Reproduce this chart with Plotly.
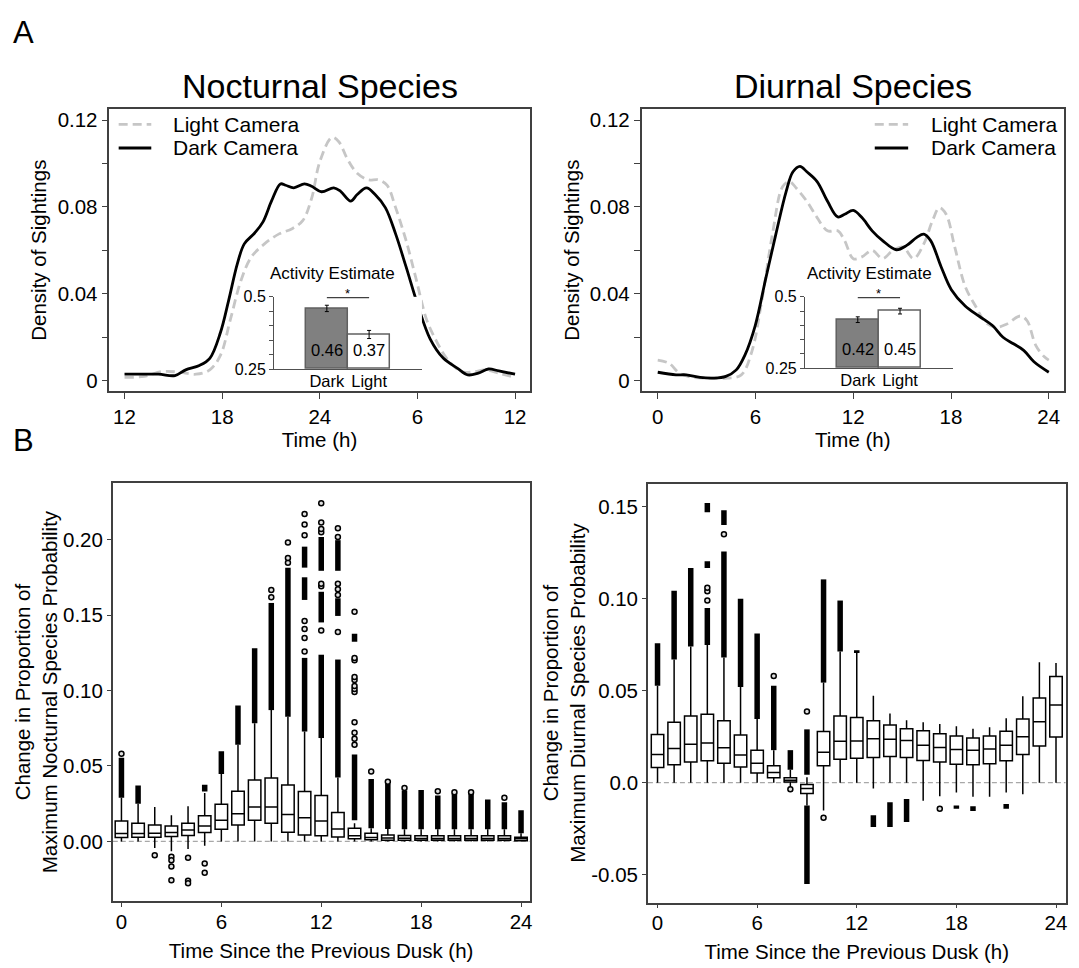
import plotly.graph_objects as go

W, H = 1079, 968
FONT = "Liberation Sans, Arial, Helvetica, sans-serif"

# ---------------- Panel A: density of sightings ----------------
noc_dark_h = [12, 14.07, 15.1, 15.76, 16.6, 17.24, 17.9, 18.4, 18.94, 19.36, 20, 20.5, 21.05, 21.58,
              21.9, 22.4, 23.06, 23.5, 24.1, 24.86, 25.28, 25.9, 26.3, 26.87, 27.4, 28.03, 28.66,
              29.3, 30.04, 30.78, 31.6, 32.47, 33.1, 33.74, 34.37, 35, 36]
noc_dark_d = [0.0030, 0.0030, 0.0024, 0.0050, 0.0070, 0.0103, 0.0223, 0.0370, 0.0540, 0.0630,
              0.0680, 0.0730, 0.0830, 0.0906, 0.0900, 0.0888, 0.0906, 0.0895, 0.0870, 0.0888,
              0.0872, 0.0827, 0.0857, 0.0888, 0.0857, 0.0797, 0.0676, 0.0525, 0.0344, 0.0193,
              0.0103, 0.0057, 0.0027, 0.0035, 0.0054, 0.0045, 0.0030]
noc_light_h = [12, 13.2, 14.3, 15.3, 16.4, 17.24, 17.9, 18.5, 19.15, 19.8, 20.6, 21.5, 22.3, 22.95,
               23.5, 24, 24.75, 25.17, 25.7, 26.3, 26.97, 27.6, 28.13, 28.66, 29.3, 29.93, 30.57,
               31.2, 31.8, 32.7, 33.5, 34.16, 35, 36]
noc_light_d = [0.0015, 0.0020, 0.0042, 0.0040, 0.0030, 0.0050, 0.0118, 0.0280, 0.0460, 0.0570,
               0.0630, 0.0676, 0.0700, 0.0737, 0.0840, 0.1008, 0.1120, 0.1100, 0.1020, 0.0955,
               0.0925, 0.0925, 0.0900, 0.0797, 0.0646, 0.0465, 0.0280, 0.0178, 0.0103, 0.0042,
               0.0042, 0.0050, 0.0035, 0.0015]

diu_dark_h = [0, 1.12, 1.75, 2.6, 3.44, 4.18, 4.82, 5.35, 5.98, 6.61, 7.25, 7.88, 8.3, 8.73, 9.15,
              9.78, 10.42, 11.05, 11.47, 12, 12.53, 13.16, 13.8, 14.64, 15.28, 15.9, 16.33, 16.75,
              17.39, 18.02, 18.87, 19.71, 20.56, 21.19, 21.83, 22.46, 23.09, 24]
diu_dark_d = [0.0039, 0.0027, 0.0027, 0.0015, 0.0012, 0.0020, 0.0050, 0.0118, 0.0253, 0.0464,
              0.0675, 0.0871, 0.0962, 0.0987, 0.0962, 0.0917, 0.0826, 0.0754, 0.0766, 0.0784,
              0.0751, 0.0690, 0.0645, 0.0603, 0.0623, 0.0660, 0.0675, 0.0645, 0.0525, 0.0419,
              0.0344, 0.0298, 0.0253, 0.0200, 0.0170, 0.0140, 0.0087, 0.0039]
diu_light_h = [0, 0.7, 1.33, 2.18, 3.23, 4.29, 5.13, 5.77, 6.4, 7.04, 7.67, 8.09, 8.51, 9.15, 9.78,
               10.42, 11.05, 11.47, 12, 12.53, 13.16, 13.8, 14.43, 15.06, 15.7, 16.33, 16.86, 17.28,
               17.7, 18.23, 18.87, 19.5, 20.13, 20.77, 21.4, 22.25, 22.67, 23.2, 23.73, 24]
diu_light_d = [0.0095, 0.0080, 0.0035, 0.0015, 0.0012, 0.0012, 0.0027, 0.0133, 0.0374, 0.0675,
               0.0894, 0.0917, 0.0886, 0.0826, 0.0751, 0.0690, 0.0690, 0.0645, 0.0562, 0.0570,
               0.0600, 0.0562, 0.0600, 0.0615, 0.0562, 0.0630, 0.0736, 0.0796, 0.0766, 0.0615,
               0.0434, 0.0344, 0.0268, 0.0246, 0.0260, 0.0298, 0.0276, 0.0163, 0.0110, 0.0095]

noc_xtick_vals = [12, 18, 24, 30, 36]
noc_xtick_text = ["12", "18", "24", "6", "12"]
day_xtick_vals = [0, 6, 12, 18, 24]
dens_tick_vals = [0, 0.04, 0.08, 0.12]
dens_tick_text = ["0", "0.04", "0.08", "0.12"]
dens_minor_vals = [0.02, 0.06, 0.10]

# inset: activity estimate
act_cats = ["Dark", "Light"]
noc_act = [0.46, 0.37]
noc_act_err = [0.011, 0.014]
diu_act = [0.42, 0.45]
diu_act_err = [0.010, 0.010]
act_tick_vals = [0.25, 0.5]
act_tick_text = ["0.25", "0.5"]
act_minor_vals = [0.30, 0.35, 0.40, 0.45]

# ---------------- Panel B: box plots ----------------
hours = list(range(25))
noc_q1 = [0.0026, 0.0028, 0.0028, 0.0033, 0.0039, 0.0059, 0.0080, 0.0109, 0.0141, 0.0120, 0.0061,
          0.0043, 0.0037, 0.0030, 0.0017, 0.0011, 0.0007, 0.0007, 0.0007, 0.0007, 0.0007, 0.0007,
          0.0007, 0.0007, 0.0005]
noc_med = [0.0052, 0.0052, 0.0054, 0.0059, 0.0076, 0.0102, 0.0141, 0.0183, 0.0228, 0.0228, 0.0178,
           0.0157, 0.0135, 0.0083, 0.0037, 0.0026, 0.0022, 0.0021, 0.0020, 0.0020, 0.0020, 0.0020,
           0.0020, 0.0020, 0.0017]
noc_q3 = [0.0135, 0.0120, 0.0109, 0.0102, 0.0120, 0.0170, 0.0246, 0.0333, 0.0407, 0.0420, 0.0374,
          0.0330, 0.0304, 0.0191, 0.0087, 0.0054, 0.0043, 0.0039, 0.0037, 0.0037, 0.0037, 0.0037,
          0.0037, 0.0037, 0.0028]
noc_lo = [0.0, 0.0, -0.0043, -0.0065, -0.0050, -0.0028, 0.0, 0.0, 0.0, 0.0, 0.0, 0.0, 0.0, 0.0,
          0.0, 0.0, 0.0, 0.0, 0.0, 0.0, 0.0, 0.0, 0.0, 0.0, 0.0]
noc_hi = [0.0290, 0.0250, 0.0228, 0.0174, 0.0233, 0.0320, 0.0446, 0.0641, 0.0783, 0.0870, 0.0826,
          0.0728, 0.0685, 0.0424, 0.0120, 0.0087, 0.0083, 0.0080, 0.0080, 0.0080, 0.0080, 0.0080,
          0.0080, 0.0080, 0.0054]
# dense runs of outliers (hour, low end, high end)
noc_band_h = [0, 1, 5, 6, 7, 8, 9, 10, 11, 11, 11, 12, 12, 12, 13, 13, 13, 14, 14,
              15, 16, 17, 18, 19, 20, 21, 22, 23, 24]
noc_band_lo = [0.0290, 0.0250, 0.0330, 0.0446, 0.0641, 0.0783, 0.0870, 0.0826, 0.0728, 0.1600,
               0.1814, 0.0685, 0.1451, 0.1793, 0.0424, 0.1494, 0.1793, 0.0141, 0.1323,
               0.0087, 0.0083, 0.0080, 0.0080, 0.0080, 0.0080, 0.0080, 0.0080, 0.0080, 0.0054]
noc_band_hi = [0.0554, 0.0370, 0.0376, 0.0598, 0.0900, 0.1280, 0.1580, 0.1814, 0.1216, 0.1750,
               0.1953, 0.1237, 0.1654, 0.2017, 0.1205, 0.1611, 0.1996, 0.0576, 0.1376,
               0.0413, 0.0380, 0.0337, 0.0341, 0.0304, 0.0315, 0.0320, 0.0278, 0.0260, 0.0207]
# isolated outliers
noc_pt_h = [0, 2, 3, 3, 3, 3, 4, 4, 4, 5, 5, 9, 9, 10, 10, 10,
            11, 11, 11, 11, 11, 11, 11, 12, 12, 12, 12, 12, 12, 12,
            13, 13, 13, 13, 13, 13, 14, 14, 14, 14, 14, 14, 14, 14, 14, 14, 14, 14,
            15, 16, 17, 19, 20, 21, 23]
noc_pt_v = [0.0580, -0.0091, -0.0102, -0.0124, -0.0167, -0.0257, -0.0109, -0.0260, -0.0278,
            -0.0146, -0.0207, 0.1618, 0.1665, 0.1846, 0.1878, 0.1980,
            0.1259, 0.1348, 0.1408, 0.1460, 0.2028, 0.2100, 0.2170,
            0.1397, 0.1690, 0.1707, 0.2049, 0.2070, 0.2113, 0.2241,
            0.1387, 0.1633, 0.1670, 0.1707, 0.2017, 0.2075,
            0.0640, 0.0680, 0.0720, 0.0790, 0.0990, 0.1010, 0.1030, 0.1070, 0.1090, 0.1200,
            0.1216, 0.1521,
            0.0463, 0.0396, 0.0354, 0.0333, 0.0326, 0.0326, 0.0289]

diu_q1 = [0.0083, 0.0098, 0.0112, 0.0119, 0.0106, 0.0085, 0.0053, 0.0027, 0.0004, -0.0059, 0.0092,
          0.0128, 0.0133, 0.0137, 0.0142, 0.0137, 0.0121, 0.0112, 0.0101, 0.0098, 0.0103, 0.0119,
          0.0154, 0.0199, 0.0248]
diu_med = [0.0154, 0.0186, 0.0209, 0.0216, 0.0190, 0.0151, 0.0106, 0.0055, 0.0014, -0.0032, 0.0165,
           0.0225, 0.0227, 0.0239, 0.0236, 0.0230, 0.0204, 0.0191, 0.0181, 0.0177, 0.0183, 0.0204,
           0.0250, 0.0332, 0.0423]
diu_q3 = [0.0262, 0.0328, 0.0363, 0.0372, 0.0337, 0.0260, 0.0177, 0.0092, 0.0027, -0.0009, 0.0278,
          0.0363, 0.0355, 0.0337, 0.0314, 0.0293, 0.0282, 0.0266, 0.0254, 0.0243, 0.0254, 0.0280,
          0.0346, 0.0461, 0.0577]
diu_lo = [0.0, 0.0, 0.0, 0.0, 0.0, 0.0, 0.0, 0.0, -0.0027, -0.0124, -0.0151, 0.0, 0.0, -0.0032,
          0.0, 0.0, -0.0098, -0.0074, -0.0053, -0.0076, -0.0076, -0.0053, -0.0062, 0.0, 0.0]
diu_hi = [0.0527, 0.0669, 0.0740, 0.0749, 0.0680, 0.0520, 0.0346, 0.0177, 0.0070, 0.0030, 0.0544,
          0.0713, 0.0705, 0.0473, 0.0376, 0.0340, 0.0328, 0.0319, 0.0307, 0.0293, 0.0301, 0.0351,
          0.0470, 0.0655, 0.0650]
diu_band_h = [0, 1, 2, 3, 3, 3, 4, 4, 5, 6, 7, 8, 9, 9, 10, 11, 12, 13, 14, 15, 18, 19, 21]
diu_band_lo = [0.0527, 0.0669, 0.0740, 0.0749, 0.1167, 0.1470, 0.0680, 0.1400, 0.0520, 0.0346,
               0.0177, 0.0070, 0.0044, -0.0550, 0.0544, 0.0713, 0.0705, -0.0240, -0.0240,
               -0.0213, -0.0142, -0.0154, -0.0142]
diu_band_hi = [0.0758, 0.1043, 0.1167, 0.0950, 0.1203, 0.1520, 0.1256, 0.1480, 0.1000, 0.0811,
               0.0527, 0.0177, 0.0290, -0.0124, 0.1105, 0.0990, 0.0720, -0.0177, -0.0106,
               -0.0089, -0.0124, -0.0128, -0.0115]
diu_pt_h = [3, 3, 3, 4, 7, 8, 9, 10, 17]
diu_pt_v = [0.0990, 0.1040, 0.1060, 0.1350, 0.0580, -0.0035, 0.0387, -0.0191, -0.0142]

noc_ytick_vals = [0.0, 0.05, 0.10, 0.15, 0.20]
noc_ytick_text = ["0.00", "0.05", "0.10", "0.15", "0.20"]
diu_ytick_vals = [-0.05, 0.0, 0.05, 0.10, 0.15]
diu_ytick_text = ["-0.05", "0.0", "0.05", "0.10", "0.15"]

# ---------------- styling ----------------
DARK_LINE = dict(color="black", width=2.8)
LIGHT_LINE = dict(color="#c6c6c6", width=2.8, dash="9px,5px")
FRAME = "#404040"


def px_x(p):
    return p / W


def px_y(p):
    return 1 - p / H


fig = go.Figure()

# Panel A curves
fig.add_trace(go.Scatter(x=noc_light_h, y=noc_light_d, mode="lines", line=LIGHT_LINE,
                         line_shape="spline", name="Light Camera", xaxis="x", yaxis="y"))
fig.add_trace(go.Scatter(x=noc_dark_h, y=noc_dark_d, mode="lines", line=DARK_LINE,
                         line_shape="spline", name="Dark Camera", xaxis="x", yaxis="y"))
fig.add_trace(go.Scatter(x=diu_light_h, y=diu_light_d, mode="lines", line=LIGHT_LINE,
                         line_shape="spline", name="Light Camera", xaxis="x2", yaxis="y2"))
fig.add_trace(go.Scatter(x=diu_dark_h, y=diu_dark_d, mode="lines", line=DARK_LINE,
                         line_shape="spline", name="Dark Camera", xaxis="x2", yaxis="y2"))

# insets
for vals, errs, xa, ya in [(noc_act, noc_act_err, "x5", "y5"), (diu_act, diu_act_err, "x6", "y6")]:
    fig.add_trace(go.Bar(x=act_cats, y=[v - 0.25 for v in vals], base=0.25, width=1,
                         marker=dict(color=["#808080", "white"], line=dict(color="#606060", width=1.5)),
                         error_y=dict(type="data", array=errs, color="black", thickness=1, width=2),
                         xaxis=xa, yaxis=ya))
    fig.add_trace(go.Scatter(x=act_cats, y=[0.497, 0.497], mode="lines",
                             line=dict(color="#404040", width=1.2), cliponaxis=False,
                             xaxis=xa, yaxis=ya))


def band_xy(hh, lo, hi):
    xs, ys = [], []
    for h, a, b in zip(hh, lo, hi):
        xs += [h, h, None]
        ys += [a, b, None]
    return xs, ys


for (q1, med, q3, lo, hi, bh, blo, bhi, ph, pv, xa, ya) in [
    (noc_q1, noc_med, noc_q3, noc_lo, noc_hi, noc_band_h, noc_band_lo, noc_band_hi,
     noc_pt_h, noc_pt_v, "x3", "y3"),
    (diu_q1, diu_med, diu_q3, diu_lo, diu_hi, diu_band_h, diu_band_lo, diu_band_hi,
     diu_pt_h, diu_pt_v, "x4", "y4")]:
    bx, by = band_xy(bh, blo, bhi)
    fig.add_trace(go.Scatter(x=bx, y=by, mode="lines", line=dict(color="black", width=5.5),
                             xaxis=xa, yaxis=ya))
    fig.add_trace(go.Scatter(x=ph, y=pv, mode="markers",
                             marker=dict(symbol="circle", size=5, color="#e0e0e0",
                                         line=dict(color="black", width=1.5)),
                             xaxis=xa, yaxis=ya))
    fig.add_trace(go.Box(x=hours, q1=q1, median=med, q3=q3, lowerfence=lo, upperfence=hi,
                         width=0.75, whiskerwidth=0, boxpoints=False, fillcolor="white",
                         line=dict(color="black", width=1.5), xaxis=xa, yaxis=ya))

fig.update_traces(showlegend=False)

tickfont = dict(family=FONT, size=20.5, color="black")
titlefont = dict(family=FONT, size=20.5, color="black")
common = dict(showline=True, linecolor=FRAME, linewidth=1.5, mirror=True, ticks="outside",
              ticklen=6, tickwidth=1.2, tickcolor=FRAME, showgrid=False, zeroline=False,
              tickfont=tickfont)

inset_x = dict(showline=True, linecolor="#505050", linewidth=1, ticks="", showgrid=False,
               zeroline=False, tickfont=dict(family=FONT, size=16.5, color="black"),
               range=[-1.25, 2.25], fixedrange=True, ticklabelstandoff=-3)
inset_y = dict(showline=True, linecolor="#505050", linewidth=1, ticks="outside", ticklen=4,
               tickcolor="#505050", showgrid=False, zeroline=False, range=[0.25, 0.5],
               tickvals=act_tick_vals, ticktext=act_tick_text,
               tickfont=dict(family=FONT, size=16, color="black"),
               minor=dict(tickvals=act_minor_vals, ticks="outside", ticklen=4, tickcolor="#505050"))

fig.update_layout(
    width=W, height=H, margin=dict(l=0, r=0, t=0, b=0),
    paper_bgcolor="white", plot_bgcolor="white",
    font=dict(family=FONT, color="black"),
    showlegend=False, bargap=0,
    xaxis=dict(common, domain=[px_x(109.7), px_x(531)], anchor="y", range=[11.07, 36.89],
               tickvals=noc_xtick_vals, ticktext=noc_xtick_text,
               title=dict(text="Time (h)", font=titlefont, standoff=6)),
    yaxis=dict(common, domain=[px_y(390), px_y(103)], anchor="x", range=[-0.0048, 0.125],
               tickvals=dens_tick_vals, ticktext=dens_tick_text,
               minor=dict(tickvals=dens_minor_vals, ticks="outside", ticklen=6, tickcolor=FRAME),
               title=dict(text="Density of Sightings", font=titlefont, standoff=5)),
    xaxis2=dict(common, domain=[px_x(643.4), px_x(1066.9)], anchor="y2", range=[-0.99, 24.93],
                tickvals=day_xtick_vals,
                title=dict(text="Time (h)", font=titlefont, standoff=6)),
    yaxis2=dict(common, domain=[px_y(390), px_y(103)], anchor="x2", range=[-0.0048, 0.125],
                tickvals=dens_tick_vals, ticktext=dens_tick_text,
                minor=dict(tickvals=dens_minor_vals, ticks="outside", ticklen=6, tickcolor=FRAME),
                title=dict(text="Density of Sightings", font=titlefont, standoff=5)),
    xaxis3=dict(common, domain=[px_x(113.1), px_x(531)], anchor="y3", range=[-0.52, 24.51],
                tickvals=day_xtick_vals, ticklen=4, ticklabelstandoff=-3,
                title=dict(text="Time Since the Previous Dusk (h)", font=titlefont, standoff=12)),
    yaxis3=dict(common, domain=[px_y(909.3), px_y(483.3)], anchor="x3", range=[-0.0397, 0.2376],
                tickvals=noc_ytick_vals, ticktext=noc_ytick_text, ticklen=4,
                title=dict(text="Change in Proportion of<br>Maximum Nocturnal Species Probability",
                           font=titlefont, standoff=0)),
    xaxis4=dict(common, domain=[px_x(649.7), px_x(1068.6)], anchor="y4", range=[-0.58, 24.58],
                tickvals=day_xtick_vals, ticklen=4, ticklabelstandoff=-3,
                title=dict(text="Time Since the Previous Dusk (h)", font=titlefont, standoff=12)),
    yaxis4=dict(common, domain=[px_y(910.7), px_y(484)], anchor="x4", range=[-0.0652, 0.1626],
                tickvals=diu_ytick_vals, ticktext=diu_ytick_text, ticklen=4,
                title=dict(text="Change in Proportion of<br>Maximum Diurnal Species Probability",
                           font=titlefont, standoff=0)),
    xaxis5=dict(inset_x, domain=[px_x(274.8), px_x(423.1)], anchor="y5"),
    yaxis5=dict(inset_y, domain=[px_y(367.7), px_y(294)], anchor="x5"),
    xaxis6=dict(inset_x, domain=[px_x(807.2), px_x(955.5)], anchor="y6"),
    yaxis6=dict(inset_y, domain=[px_y(366.7), px_y(294)], anchor="x6"),
)

shapes = []
annotations = []
# zero reference lines in panel B
for xa, ya in [("x3", "y3"), ("x4", "y4")]:
    shapes.append(dict(type="line", xref=f"{xa} domain", yref=ya, x0=0, x1=1, y0=0, y1=0,
                       line=dict(color="#a8a8a8", width=1.2, dash="5px,3px"), layer="below"))

# legends (drawn manually to match the compact layout)
for (lx0, lx1, tx) in [(119, 151.7, 172.4), (877.2, 910.7, 932.1)]:
    for (ly, style, label) in [(118.5, LIGHT_LINE, "Light Camera"), (142.5, DARK_LINE, "Dark Camera")]:
        shapes.append(dict(type="line", xref="paper", yref="paper", x0=px_x(lx0), x1=px_x(lx1),
                           y0=px_y(ly), y1=px_y(ly), line=style))
        annotations.append(dict(text=label, xref="paper", yref="paper", x=px_x(tx), y=px_y(ly),
                                xanchor="left", yanchor="middle", showarrow=False, borderpad=0,
                                font=dict(family=FONT, size=21, color="black")))

# inset labels
for vals, xa, ya, cx in [(noc_act, "x5", "y5", 333), (diu_act, "x6", "y6", 871.7)]:
    annotations.append(dict(text="Activity Estimate", xref="paper", yref="paper", x=px_x(cx),
                            y=px_y(270.5), xanchor="center", yanchor="middle", showarrow=False,
                            borderpad=0, font=dict(family=FONT, size=17, color="black")))
    annotations.append(dict(text="*", xref=xa, yref="paper", x=0.5, y=px_y(290.5),
                            xanchor="center", yanchor="middle", showarrow=False, borderpad=0,
                            font=dict(family=FONT, size=13, color="black")))
    for c, v in zip(act_cats, vals):
        annotations.append(dict(text=f"{v:.2f}", xref=xa, yref=ya, x=c, y=0.318,
                                xanchor="center", yanchor="middle", showarrow=False,
                                font=dict(family=FONT, size=16.5, color="black")))

# panel titles and letters
annotations += [
    dict(text="Nocturnal Species", xref="paper", yref="paper", x=px_x(321), y=px_y(79),
         xanchor="center", yanchor="middle", showarrow=False,
         font=dict(family=FONT, size=34, color="black")),
    dict(text="Diurnal Species", xref="paper", yref="paper", x=px_x(855), y=px_y(79),
         xanchor="center", yanchor="middle", showarrow=False,
         font=dict(family=FONT, size=34, color="black")),
    dict(text="A", xref="paper", yref="paper", x=px_x(24), y=px_y(25),
         xanchor="center", yanchor="middle", showarrow=False,
         font=dict(family=FONT, size=31, color="black")),
    dict(text="B", xref="paper", yref="paper", x=px_x(24), y=px_y(440),
         xanchor="center", yanchor="middle", showarrow=False,
         font=dict(family=FONT, size=31, color="black")),
]

fig.update_layout(shapes=shapes, annotations=annotations)
fig.write_html("out.html", config={"displayModeBar": False},
               post_script="document.body.style.margin='0';document.body.style.padding='0';"
                           "document.body.style.overflow='hidden';")
